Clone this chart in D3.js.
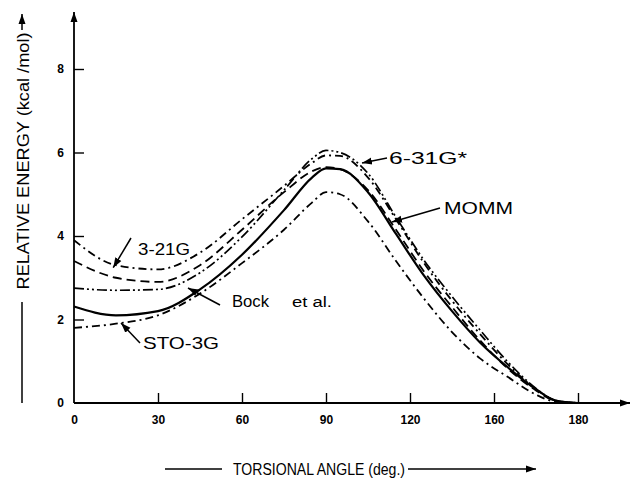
<!DOCTYPE html>
<html><head><meta charset="utf-8">
<script src="https://cdn.jsdelivr.net/npm/d3@7"></script>
<style>
html,body{margin:0;padding:0;background:#fff;}
svg text{font-family:"Liberation Sans",Arial,sans-serif;fill:#000;}
</style></head>
<body>
<svg id="chart" width="635" height="478"></svg>
<script>
// ---- data ----
const angles = [0, 15, 30, 45, 60, 75, 85, 90, 95, 105, 115, 125, 135, 145, 155, 165, 172, 180];
const e321G  = [3.9, 3.3, 3.2, 3.6, 4.4, 5.2, 5.75, 5.93, 5.92, 5.4, 4.4, 3.35, 2.45, 1.65, 0.92, 0.33, 0.06, 0];
const e631Gs = [3.4, 3.0, 2.9, 3.3, 4.15, 5.05, 5.55, 5.65, 5.6, 5.1, 4.15, 3.15, 2.3, 1.5, 0.82, 0.3, 0.05, 0];
const eBock  = [2.75, 2.7, 2.72, 3.12, 3.98, 5.1, 5.85, 6.05, 6.0, 5.5, 4.45, 3.42, 2.55, 1.75, 0.98, 0.35, 0.06, 0];
const eMOMM  = [2.31, 2.1, 2.2, 2.72, 3.55, 4.62, 5.4, 5.62, 5.6, 5.05, 4.05, 3.05, 2.2, 1.45, 0.85, 0.33, 0.06, 0];
const eSTO   = [1.8, 1.9, 2.1, 2.62, 3.35, 4.15, 4.8, 5.05, 5.0, 4.35, 3.4, 2.5, 1.7, 1.07, 0.62, 0.2, 0.03, 0];
const xTickValues = [0, 30, 60, 90, 120, 150, 180];
const xTickLabels = ["0", "30", "60", "90", "120", "160", "180"];
const yTickValues = [0, 2, 4, 6, 8];
const yTickLabels = ["0", "2", "4", "6", "8"];

const seriesDefs = [
  {name: "3-21G", values: e321G, dash: "8,4,2,4", w: 1.8},
  {name: "6-31G*", values: e631Gs, dash: "9,5", w: 1.8},
  {name: "Bock et al.", values: eBock, dash: "10,3,2,3,2,3", w: 1.7},
  {name: "MOMM", values: eMOMM, dash: null, w: 2.2},
  {name: "STO-3G", values: eSTO, dash: "8,4,2,4", w: 1.8}
];

// ---- layout ----
const svg = d3.select("#chart");
const x = d3.scaleLinear().domain([0, 180]).range([74, 578]);
const y = d3.scaleLinear().domain([0, 8]).range([403, 69]);

svg.append("defs").append("marker").attr("id","arr").attr("viewBox","0 0 10 10")
  .attr("refX",10).attr("refY",5).attr("markerWidth",10).attr("markerHeight",10)
  .attr("markerUnits","userSpaceOnUse").attr("orient","auto")
  .append("path").attr("d","M0,1.5 L10,5 L0,8.5 Z").attr("fill","#000");

svg.append("line").attr("x1", x(0)).attr("y1", y(0)).attr("x2", 630).attr("y2", y(0))
  .attr("stroke","#000").attr("stroke-width",2).attr("marker-end","url(#arr)");
svg.append("line").attr("x1", x(0)).attr("y1", y(0)).attr("x2", x(0)).attr("y2", 12)
  .attr("stroke","#000").attr("stroke-width",1.8).attr("marker-end","url(#arr)");

const xAxis = d3.axisBottom(x).tickValues(xTickValues)
  .tickFormat((d,i) => xTickLabels[i]).tickSizeInner(-10).tickSizeOuter(0).tickPadding(12);
const gx = svg.append("g").attr("transform", `translate(0,${y(0)})`).call(xAxis);
gx.select(".domain").remove();
gx.selectAll(".tick line").attr("stroke-width",1.4).filter(d => d === 0).remove();
gx.selectAll(".tick text").attr("font-size", 12).attr("font-weight","bold").attr("font-family","Liberation Sans, Arial, sans-serif");

const yAxis = d3.axisLeft(y).tickValues(yTickValues)
  .tickFormat((d,i) => yTickLabels[i]).tickSizeInner(-10).tickSizeOuter(0).tickPadding(10);
const gy = svg.append("g").attr("transform", `translate(${x(0)},0)`).call(yAxis);
gy.select(".domain").remove();
gy.selectAll(".tick line").attr("stroke-width",1.4).filter(d => d === 0).remove();
gy.selectAll(".tick text").attr("font-size", 12).attr("font-weight","bold").attr("font-family","Liberation Sans, Arial, sans-serif");

// curves
const line = d3.line().x(d => x(d[0])).y(d => y(d[1])).curve(d3.curveMonotoneX);
seriesDefs.forEach(s => {
  svg.append("path").datum(angles.map((a,i) => [a, s.values[i]]))
    .attr("d", line).attr("fill","none").attr("stroke","#000")
    .attr("stroke-width", s.w).attr("stroke-dasharray", s.dash);
});

// annotations
function arrow(x1,y1,x2,y2){
  svg.append("line").attr("x1",x1).attr("y1",y1).attr("x2",x2).attr("y2",y2)
    .attr("stroke","#000").attr("stroke-width",1.5).attr("marker-end","url(#arr)");
}
const lab = (t,xx,yy,fs,len) => {
  const el = svg.append("text").attr("x",xx).attr("y",yy).attr("font-size",fs).text(t);
  if (len) el.attr("textLength", len).attr("lengthAdjust","spacingAndGlyphs");
  return el;
};

lab("3-21G", 138, 255, 17, 52);
arrow(131, 238, x(14), y(3.24));
lab("6-31G*", 389, 164, 17, 78);
arrow(387, 158, 362, 163);
lab("MOMM", 444, 214, 17, 69);
arrow(440, 208, 392, 222);
lab("Bock", 232, 307, 16, 37);
lab("et al.", 292, 307, 14, 40);
arrow(220, 305, 188, 288);
lab("STO-3G", 143, 349, 17, 76);
arrow(140, 343, 121, 323);

// axis titles
svg.append("text").attr("transform","translate(29,161) rotate(-90)")
  .attr("text-anchor","middle").attr("font-size",16)
  .attr("textLength",257).attr("lengthAdjust","spacingAndGlyphs")
  .text("RELATIVE ENERGY (kcal /mol)");
svg.append("line").attr("x1",22).attr("y1",403).attr("x2",22).attr("y2",302).attr("stroke","#000").attr("stroke-width",1.5);
arrow(22, 30, 22, 14);

svg.append("text").attr("x",319).attr("y",475).attr("text-anchor","middle")
  .attr("font-size",16).attr("textLength",172).attr("lengthAdjust","spacingAndGlyphs")
  .text("TORSIONAL ANGLE (deg.)");
svg.append("line").attr("x1",165).attr("y1",469).attr("x2",222).attr("y2",469).attr("stroke","#000").attr("stroke-width",1.5);
arrow(408, 469, 536, 469);
</script>
</body></html>
